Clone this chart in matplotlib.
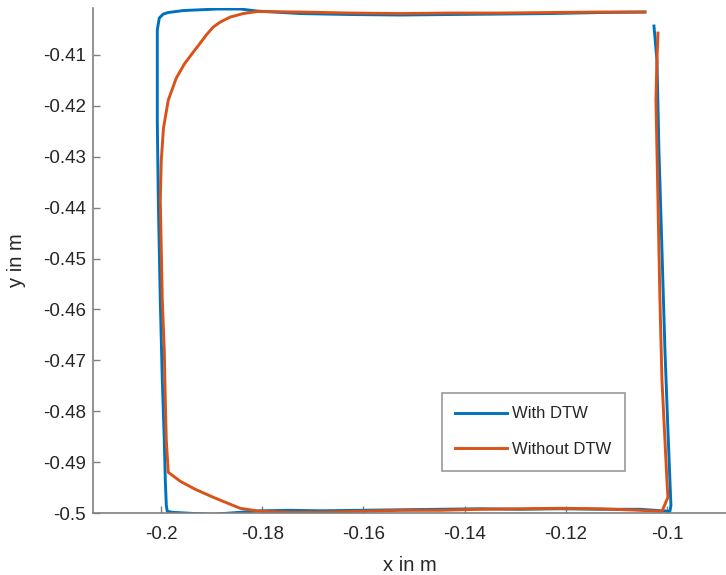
import numpy as np
import matplotlib.pyplot as plt

# trajectory recorded with DTW alignment (x, y in m)
x_dtw = [-0.10262, -0.10203, -0.10164, -0.10104, -0.10045, -0.09986, -0.09947, -0.09927, -0.09947,
         -0.10539, -0.11328, -0.12118, -0.12907, -0.13697, -0.14487, -0.15276, -0.16066, -0.16855,
         -0.17448, -0.18040, -0.18435, -0.18968, -0.19422, -0.19777, -0.19876,
         -0.19895, -0.19915, -0.19935, -0.19974, -0.20014, -0.20053, -0.20073, -0.20073, -0.20073,
         -0.20034, -0.19955, -0.19856, -0.19560, -0.18889, -0.18435, -0.18099, -0.17250, -0.16263,
         -0.15276, -0.14289, -0.13302, -0.12315, -0.11328, -0.10440]
y_dtw = [-0.40431, -0.41100, -0.42869, -0.44835, -0.46801, -0.48374, -0.49357, -0.49849, -0.49967,
         -0.49927, -0.49927, -0.49917, -0.49927, -0.49917, -0.49927, -0.49937, -0.49947, -0.49957,
         -0.49947, -0.49957, -0.49986, -0.50026, -0.50006, -0.49986, -0.49967,
         -0.49849, -0.49357, -0.48571, -0.47391, -0.45818, -0.43852, -0.42280, -0.41100, -0.40510,
         -0.40274, -0.40196, -0.40166, -0.40127, -0.40097, -0.40097, -0.40137, -0.40186, -0.40205,
         -0.40215, -0.40205, -0.40196, -0.40186, -0.40166, -0.40156]

# trajectory recorded without DTW
x_raw = [-0.10183, -0.10203, -0.10223, -0.10183, -0.10144, -0.10104, -0.10045, -0.10006, -0.09986,
         -0.10104, -0.10539, -0.11328, -0.12118, -0.12907, -0.13697, -0.14487, -0.15276, -0.16066,
         -0.16855, -0.17448, -0.18040, -0.18435, -0.18968, -0.19323, -0.19619, -0.19856,
         -0.19895, -0.19915, -0.19935, -0.19974, -0.20014, -0.19994, -0.19951, -0.19856, -0.19698,
         -0.19540, -0.19362, -0.19224, -0.19106, -0.18968, -0.18829, -0.18632, -0.18375, -0.18099,
         -0.17250, -0.16263, -0.15276, -0.14289, -0.13302, -0.12315, -0.11328, -0.10440]
y_raw = [-0.40569, -0.41100, -0.41886, -0.43852, -0.45818, -0.47391, -0.48571, -0.49357, -0.49691,
         -0.49967, -0.49947, -0.49917, -0.49908, -0.49917, -0.49927, -0.49947, -0.49947, -0.49967,
         -0.49986, -0.49986, -0.49967, -0.49908, -0.49691, -0.49534, -0.49377, -0.49200,
         -0.48571, -0.47784, -0.46801, -0.45818, -0.43852, -0.43066, -0.42437, -0.41886, -0.41454,
         -0.41179, -0.40943, -0.40766, -0.40608, -0.40451, -0.40353, -0.40255, -0.40186, -0.40146,
         -0.40156, -0.40176, -0.40186, -0.40176, -0.40176, -0.40166, -0.40156, -0.40156]

x_ticks = [-0.2, -0.18, -0.16, -0.14, -0.12, -0.1]
y_ticks = [-0.5, -0.49, -0.48, -0.47, -0.46, -0.45, -0.44, -0.43, -0.42, -0.41]

plt.rcParams['font.family'] = ['Liberation Sans', 'DejaVu Sans']
axis_col = '#808080'
text_col = '#262626'

fig = plt.figure(figsize=(7.26, 5.75), dpi=100)
ax = fig.add_axes([93 / 726, 1 - 513 / 575, 1 - 93 / 726, (513 - 8) / 575])

ax.plot(x_dtw, y_dtw, color='#0072BD', lw=2.1, label='With DTW')
ax.plot(x_raw, y_raw, color='#D95319', lw=2.1, label='Without DTW')

ax.set_xlim(-0.21343, -0.08839)
ax.set_ylim(-0.5, -0.40077)
ax.set_xticks(x_ticks)
ax.set_xticklabels([f'{v:g}' for v in x_ticks])
ax.set_yticks(y_ticks)
ax.set_yticklabels([f'{v:g}' for v in y_ticks])

for side in ('top', 'right'):
    ax.spines[side].set_visible(False)
for side in ('left', 'bottom'):
    ax.spines[side].set_color(axis_col)
    ax.spines[side].set_linewidth(1.2)
ax.tick_params(direction='in', length=5, width=1, color=axis_col,
               labelcolor=text_col, labelsize=13.5)
ax.tick_params(axis='x', pad=9.5)
ax.tick_params(axis='y', pad=5)

ax.set_xlabel('x in m', fontsize=14.5, color=text_col, labelpad=9)
ax.set_ylabel('y in m', fontsize=14.5, color=text_col, labelpad=12)

leg = ax.legend(loc='upper left', bbox_to_anchor=(442 / 726, 1 - 393 / 575),
                bbox_transform=fig.transFigure, fontsize=12, frameon=True,
                fancybox=False, handlelength=3.1, handletextpad=0.3,
                labelspacing=1.25, borderpad=0.8, borderaxespad=0)
leg.get_frame().set_edgecolor(axis_col)
leg.get_frame().set_linewidth(1.2)
for t in leg.get_texts():
    t.set_color(text_col)

fig.savefig('out.png', dpi=100)
